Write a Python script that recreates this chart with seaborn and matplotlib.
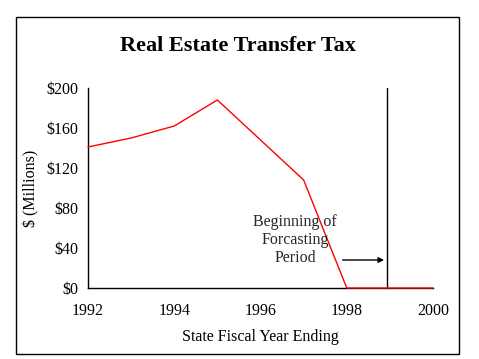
import numpy as np
import pandas as pd
import matplotlib
matplotlib.use("Agg")
import matplotlib.pyplot as plt
import seaborn as sns
from matplotlib.patches import Rectangle

# data
years = [1992, 1993, 1994, 1995, 1996, 1997, 1998, 1999, 2000]
revenue = [141, 150, 162, 188, 148, 108, 0, 0, 0]
forecast_start = 1998.93
arrow_y = 28

df = pd.DataFrame({"year": years, "revenue": revenue})

sns.set_theme(style="white")
plt.rcParams["font.family"] = ["Liberation Serif", "DejaVu Serif"]

fig = plt.figure(figsize=(4.79, 3.59), dpi=100)
ax = fig.add_axes([0.1837, 0.1978, 0.7203, 0.5571])

sns.lineplot(data=df, x="year", y="revenue", color="#ff0000", linewidth=1.0, ax=ax)
# keep the red line on top of the x axis where it runs at zero
ax.lines[0].set_zorder(3)
ax.lines[0].set_clip_on(False)

# forecast marker line and arrow
ax.plot([forecast_start, forecast_start], [0, 200], color="black", linewidth=1.0, clip_on=False)
ax.annotate("", xy=(forecast_start, arrow_y), xytext=(1997.84, arrow_y),
            arrowprops=dict(arrowstyle="-|>", color="black", lw=1.0, mutation_scale=8))
ax.text(1996.8, 48, "Beginning of\nForcasting\nPeriod", ha="center", va="center",
        fontsize=11.5, linespacing=1.15)

ax.set_xlim(1992, 2000)
ax.set_ylim(0, 200)
ax.set_xticks(years)
ax.set_xticklabels([str(y) if y % 2 == 0 else "" for y in years])
ax.set_yticks([0, 40, 80, 120, 160, 200])
ax.set_yticklabels(["$0", "$40", "$80", "$120", "$160", "$200"])
ax.tick_params(axis="both", direction="out", length=4, width=1, color="black",
               labelsize=11.5, labelcolor="black", pad=3)
ax.tick_params(axis="x", pad=7)

for side in ["top", "right"]:
    ax.spines[side].set_visible(False)
for side in ["left", "bottom"]:
    ax.spines[side].set_color("black")
    ax.spines[side].set_linewidth(1.0)

ax.set_xlabel("State Fiscal Year Ending", fontsize=11.5, color="black", labelpad=7)
ax.set_ylabel("$ (Millions)", fontsize=11.5, color="black", labelpad=5)

fig.text(0.497, 0.872, "Real Estate Transfer Tax", ha="center", va="center",
         fontsize=16, fontweight="bold", color="black")

# outer frame
fig.patches.append(Rectangle((16 / 479, 5 / 359), 443 / 479, 337 / 359,
                             transform=fig.transFigure, fill=False,
                             edgecolor="black", linewidth=1.0))

fig.savefig("out.png", dpi=100)
